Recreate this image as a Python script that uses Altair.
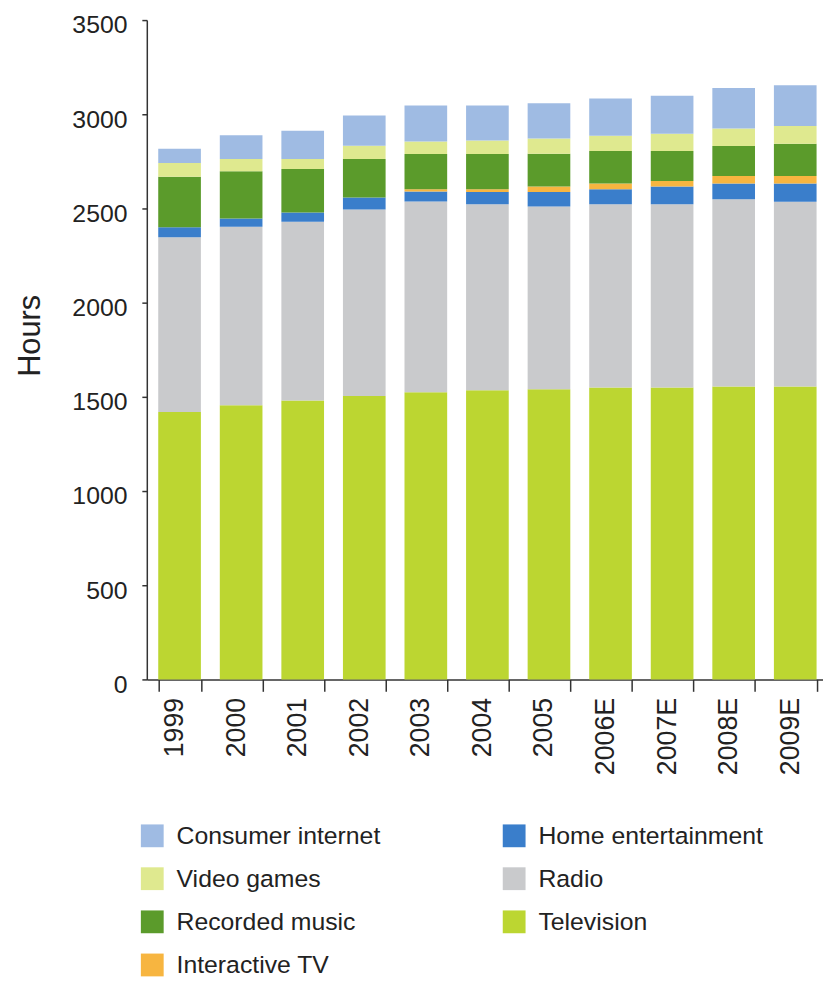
import altair as alt
import pandas as pd

years = ["1999", "2000", "2001", "2002", "2003", "2004", "2005", "2006E", "2007E", "2008E", "2009E"]

television = [1420, 1455, 1480, 1505, 1525, 1535, 1540, 1550, 1550, 1555, 1555]
radio = [927, 948, 950, 990, 1012, 988, 970, 973, 973, 994, 980]
home_entertainment = [53, 44, 49, 63, 53, 65, 78, 79, 94, 83, 97]
interactive_tv = [0, 0, 0, 0, 12, 14, 28, 30, 29, 40, 40]
recorded_music = [268, 251, 231, 205, 187, 187, 175, 173, 159, 160, 172]
video_games = [74, 65, 53, 70, 67, 72, 81, 81, 91, 92, 94]
consumer_internet = [75, 125, 149, 160, 191, 186, 186, 198, 202, 216, 216]

# bottom-to-top stacking order
series_names = ["Television", "Radio", "Home entertainment", "Interactive TV",
                "Recorded music", "Video games", "Consumer internet"]
series_values = [television, radio, home_entertainment, interactive_tv,
                 recorded_music, video_games, consumer_internet]

# legend order (column-major in 2 columns)
legend_order = ["Consumer internet", "Video games", "Recorded music", "Interactive TV",
                "Home entertainment", "Radio", "Television"]
legend_colors = ["#9fbbe3", "#dfe98f", "#5b9b2b", "#f7b540",
                 "#3a7ecb", "#c9cacc", "#bcd631"]

rows = []
for idx, (name, vals) in enumerate(zip(series_names, series_values)):
    for yr, v in zip(years, vals):
        rows.append({"year": yr, "series": name, "hours": v, "stack": idx})
df = pd.DataFrame(rows)

font = "Liberation Sans, Arial, sans-serif"

chart = alt.Chart(df).mark_bar().encode(
    x=alt.X(
        "year:N", sort=years, title=None,
        scale=alt.Scale(paddingInner=0.307, paddingOuter=0.145, align=0.64, round=False),
        axis=alt.Axis(labelAngle=270, tickBand="extent", tickSize=12,
                      labelFont=font, labelFontSize=27, labelColor="#222",
                      labelPadding=6, labelOffset=-5,
                      domainColor="#333", domainWidth=1.5, tickColor="#333", tickWidth=1.5),
    ),
    y=alt.Y(
        "hours:Q", stack="zero",
        scale=alt.Scale(domain=[0, 3500], nice=False),
        axis=alt.Axis(values=[0, 500, 1000, 1500, 2000, 2500, 3000, 3500], grid=False,
                      format="d",
                      title="Hours", titleFont=font, titleFontSize=31, titleFontWeight="normal",
                      titleColor="#222", titleAngle=270, titleX=-108, titleY=318,
                      titleBaseline="alphabetic", titleAlign="center",
                      labelFont=font, labelFontSize=25, labelColor="#222",
                      labelPadding=15, labelOffset=5, tickSize=5,
                      domainColor="#333", domainWidth=1.5, tickColor="#333", tickWidth=1.5),
    ),
    color=alt.Color(
        "series:N",
        scale=alt.Scale(domain=legend_order, range=legend_colors),
        legend=alt.Legend(title=None, orient="none", legendX=-7, legendY=810,
                          columns=2, symbolType="square", symbolSize=529,
                          symbolStrokeWidth=0, symbolOpacity=1,
                          labelFont=font, labelFontSize=25, labelColor="#222",
                          labelLimit=400, labelOffset=12, columnPadding=122, rowPadding=17.5),
    ),
    order=alt.Order("stack:Q", sort="ascending"),
).properties(
    width=682, height=665,
    autosize=alt.AutoSizeParams(type="none"),
    padding={"left": 140, "top": 8, "right": 0, "bottom": 302},
).configure_view(stroke=None)

chart.save("out.html", embed_options={"renderer": "svg", "actions": False})
